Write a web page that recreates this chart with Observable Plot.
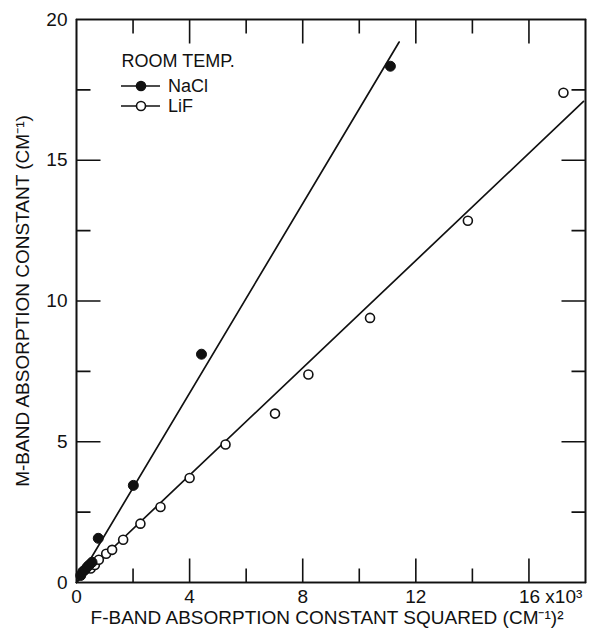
<!DOCTYPE html>
<html>
<head>
<meta charset="utf-8">
<script src="https://cdn.jsdelivr.net/npm/d3@7"></script>
<script src="https://cdn.jsdelivr.net/npm/@observablehq/plot@0.6"></script>
<style>
  html, body { margin: 0; padding: 0; background: #fff; }
  #chart svg { display: block; }
</style>
</head>
<body>
<div id="chart"></div>
<script>
// ---- data ----
const naclX = [0.15, 0.22, 0.3, 0.38, 0.45, 0.55, 0.77, 2.01, 4.42, 11.1];
const naclY = [0.25, 0.38, 0.45, 0.55, 0.62, 0.72, 1.57, 3.45, 8.11, 18.34];
const lifX = [0.5, 0.65, 0.79, 1.05, 1.26, 1.65, 2.26, 2.97, 4.0, 5.27, 7.02, 8.2, 10.38, 13.84, 17.22];
const lifY = [0.5, 0.62, 0.81, 1.02, 1.16, 1.52, 2.09, 2.68, 3.71, 4.9, 6.0, 7.39, 9.4, 12.85, 17.4];
const naclFitX = [0, 11.41];
const naclFitY = [0, 19.2];
const lifFitX = [0, 17.93];
const lifFitY = [0, 17.09];
const xTicks = [2, 4, 6, 8, 10, 12, 14, 16];
const xMajor = [4, 8, 12, 16];
const yTicks = [2.5, 5, 7.5, 10, 12.5, 15, 17.5];
const yMajor = [5, 10, 15];
const xTickLabels = ["0", "4", "8", "12", "16 x10\u00B3"];
const xTickLabelVals = [0, 4, 8, 12, 16];
const yTickLabels = ["0", "5", "10", "15", "20"];
const yTickLabelVals = [0, 5, 10, 15, 20];
const xTitle = "F-BAND ABSORPTION CONSTANT SQUARED (CM\u207B\u00B9)\u00B2";
const yTitle = "M-BAND ABSORPTION CONSTANT (CM\u207B\u00B9)";
const legendTitle = "ROOM TEMP.";
const seriesNames = ["NaCl", "LiF"];

const nacl = naclX.map((x, i) => ({x, y: naclY[i]}));
const lif = lifX.map((x, i) => ({x, y: lifY[i]}));
const naclFit = naclFitX.map((x, i) => ({x, y: naclFitY[i]}));
const lifFit = lifFitX.map((x, i) => ({x, y: lifFitY[i]}));
const xLab = xTickLabelVals.map((v, i) => ({v, t: xTickLabels[i], y: 0}));
const yLab = yTickLabelVals.map((v, i) => ({v, t: yTickLabels[i], x: 0}));

const W = 589, H = 638, ML = 76, MR = 4, MT = 19, MB = 56;
const XMAX = 18, YMAX = 20;
const FW = W - ML - MR, FH = H - MT - MB;
const MINOR = 14, MAJOR = 24; // inward tick lengths (px)
// tick lengths expressed in data units of the perpendicular scale
const LyMinor = MINOR * YMAX / FH, LyMajor = MAJOR * YMAX / FH;
const LxMinor = MINOR * XMAX / FW, LxMajor = MAJOR * XMAX / FW;

// each side of the frame as one polyline with spikes at the tick values
const tickPath = [];
const push = (side, x, y) => tickPath.push({side, x, y});
push("b", 0, 0); xTicks.forEach(v => { const L = xMajor.includes(v) ? LyMajor : LyMinor; push("b", v, 0); push("b", v, L); push("b", v, 0); }); push("b", XMAX, 0);
push("t", 0, YMAX); xTicks.forEach(v => { const L = xMajor.includes(v) ? LyMajor : LyMinor; push("t", v, YMAX); push("t", v, YMAX - L); push("t", v, YMAX); }); push("t", XMAX, YMAX);
push("l", 0, 0); yTicks.forEach(v => { const L = yMajor.includes(v) ? LxMajor : LxMinor; push("l", 0, v); push("l", L, v); push("l", 0, v); }); push("l", 0, YMAX);
push("r", XMAX, 0); yTicks.forEach(v => { const L = yMajor.includes(v) ? LxMajor : LxMinor; push("r", XMAX, v); push("r", XMAX - L, v); push("r", XMAX, v); }); push("r", XMAX, YMAX);

const FONT = "Liberation Sans, Arial, sans-serif";
const tx = {fill: "#111", fontFamily: FONT, fontSize: 19};

const chart = Plot.plot({
  width: W,
  height: H,
  marginLeft: ML,
  marginRight: MR,
  marginTop: MT,
  marginBottom: MB,
  x: {domain: [0, XMAX], axis: null},
  y: {domain: [0, YMAX], axis: null},
  marks: [
    Plot.frame({stroke: "#111", strokeWidth: 1.6}),
    Plot.line(tickPath, {x: "x", y: "y", z: "side", stroke: "#111", strokeWidth: 1.6, strokeLinejoin: "miter"}),
    Plot.text(yLab, {x: "x", y: "v", text: "t", dx: -9, textAnchor: "end", ...tx}),
    Plot.text(xLab.slice(0, 4), {x: "v", y: "y", text: "t", dy: 14, ...tx}),
    Plot.text(xLab.slice(4), {x: "v", y: "y", text: "t", dx: -10, dy: 14, textAnchor: "start", ...tx}),
    Plot.line(naclFit, {x: "x", y: "y", stroke: "#111", strokeWidth: 1.7}),
    Plot.line(lifFit, {x: "x", y: "y", stroke: "#111", strokeWidth: 1.7}),
    Plot.dot(lif, {x: "x", y: "y", r: 4.5, fill: "#fff", stroke: "#111", strokeWidth: 1.6}),
    Plot.dot(nacl, {x: "x", y: "y", r: 5, fill: "#111", stroke: "#111", strokeWidth: 1}),
    Plot.text([xTitle], {frameAnchor: "bottom", text: d => d, lineAnchor: "middle", dy: 35, dx: -4, ...tx}),
    Plot.text([yTitle], {frameAnchor: "left", text: d => d, textAnchor: "middle", lineAnchor: "middle", dx: -54, rotate: -90, ...tx}),
    Plot.text([legendTitle], {frameAnchor: "top-left", text: d => d, dx: 45, dy: 42, textAnchor: "start", lineAnchor: "middle", ...tx, fontSize: 18})
  ]
});

const svg = d3.select(chart);

// Legend rows
const rows = [
  {name: seriesNames[0], fill: "#111", dy: 67},
  {name: seriesNames[1], fill: "#fff", dy: 87}
];
const lg = svg.append("g");
rows.forEach(r => {
  lg.append("line").attr("x1", ML + 45).attr("x2", ML + 84).attr("y1", MT + r.dy).attr("y2", MT + r.dy)
    .attr("stroke", "#111").attr("stroke-width", 1.7);
  lg.append("circle").attr("cx", ML + 65).attr("cy", MT + r.dy).attr("r", 4.5)
    .attr("fill", r.fill).attr("stroke", "#111").attr("stroke-width", 1.6);
  lg.append("text").attr("x", ML + 92).attr("y", MT + r.dy).attr("dy", "0.35em")
    .attr("text-anchor", "start").attr("font-family", FONT).attr("font-size", 18).attr("fill", "#111").text(r.name);
});

document.getElementById("chart").appendChild(chart);
</script>
</body>
</html>
